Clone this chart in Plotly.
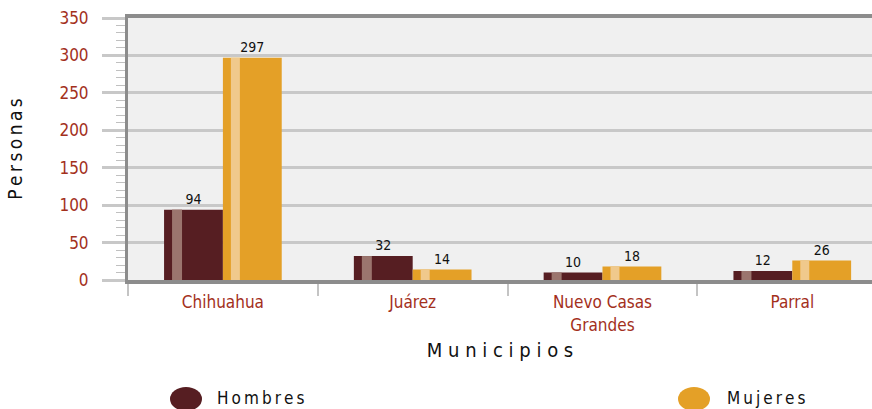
import plotly.graph_objects as go

# ---- data ----
municipios = ["Chihuahua", "Juárez", "Nuevo Casas<br>Grandes", "Parral"]
hombres = [94, 32, 10, 12]
mujeres = [297, 14, 18, 26]
series_names = ["Hombres", "Mujeres"]
y_ticks = [0, 50, 100, 150, 200, 250, 300, 350]

FONT = "DejaVu Sans Condensed, Liberation Sans Narrow, sans-serif"
C_H = "#561e22"
C_H_HI = "#9b756e"
C_M = "#e4a027"
C_M_HI = "#f0c98c"
C_TICK = "#a3301c"
THIN = "\u2009"

BW = 0.31
fig = go.Figure()
fig.add_trace(go.Bar(x=municipios, y=hombres, name=series_names[0], marker=dict(color=C_H, line=dict(width=0)),
                     offset=-BW, width=BW, text=hombres, textposition="outside",
                     textfont=dict(family=FONT, size=14, color="#111"), cliponaxis=False, showlegend=False))
fig.add_trace(go.Bar(x=municipios, y=mujeres, name=series_names[1], marker=dict(color=C_M, line=dict(width=0)),
                     offset=0, width=BW, text=mujeres, textposition="outside",
                     textfont=dict(family=FONT, size=14, color="#111"), cliponaxis=False, showlegend=False))
# highlight stripes
fig.add_trace(go.Bar(x=municipios, y=hombres, marker=dict(color=C_H_HI, line=dict(width=0)),
                     offset=-BW + 8 / 190, width=10 / 190, hoverinfo="skip", showlegend=False))
fig.add_trace(go.Bar(x=municipios, y=mujeres, marker=dict(color=C_M_HI, line=dict(width=0)),
                     offset=8 / 190, width=9 / 190, hoverinfo="skip", showlegend=False))

fig.update_layout(
    width=872, height=409,
    margin=dict(l=128, r=0, t=18, b=129),
    barmode="overlay",
    paper_bgcolor="white", plot_bgcolor="#f0f0f0",
    font=dict(family=FONT, color="#111"),
    xaxis=dict(
        range=[-0.5, 3.42], showline=True, linecolor="#8c8c8c", linewidth=4, mirror=True,
        ticks="outside", tickson="boundaries", ticklen=12, tickwidth=2, tickcolor="#c4c4c4",
        tickfont=dict(family=FONT, size=17, color=C_TICK), showgrid=False, automargin=False,
        ticklabelstandoff=4,
        title=dict(text=" ".join("Municipios"), font=dict(family=FONT, size=20, color="#111"), standoff=10),
    ),
    yaxis=dict(
        range=[0, 350], tickvals=y_ticks, showline=True, linecolor="#8c8c8c", linewidth=3,
        ticks="outside", ticklen=23, tickwidth=3, tickcolor="#c8c8c8", automargin=False,
        showgrid=True, gridcolor="#c8c8c8", gridwidth=3, zeroline=False,
        minor=dict(dtick=10, ticks="outside", ticklen=9, tickwidth=1, tickcolor="#c0c0c0", showgrid=False),
        tickfont=dict(family=FONT, size=17, color=C_TICK), ticklabelstandoff=10,
        title=dict(text=THIN.join("Personas"), font=dict(family=FONT, size=19, color="#111"), standoff=32),
    ),
)

# legend drawn as circles + text below chart
leg = [(series_names[0], C_H, 186, 215), (series_names[1], C_M, 694, 725)]
for name, col, cx, tx in leg:
    xp = (cx - 128) / 744
    yp = (280 - 399) / 262
    fig.add_shape(type="circle", xref="paper", yref="paper", xsizemode="pixel", ysizemode="pixel",
                  xanchor=xp, yanchor=yp, x0=-16, x1=16, y0=-12, y1=12,
                  fillcolor=col, line=dict(width=0))
    fig.add_annotation(x=(tx - 128) / 744, y=(280 - 398) / 262, xref="paper", yref="paper",
                       xanchor="left", yanchor="middle",
                       text=THIN.join(name), showarrow=False, font=dict(family=FONT, size=17, color="#111"))

fig.write_html("out.html", config={"displayModeBar": False},
               post_script="document.body.style.margin='0px';document.documentElement.style.overflow='hidden';")
